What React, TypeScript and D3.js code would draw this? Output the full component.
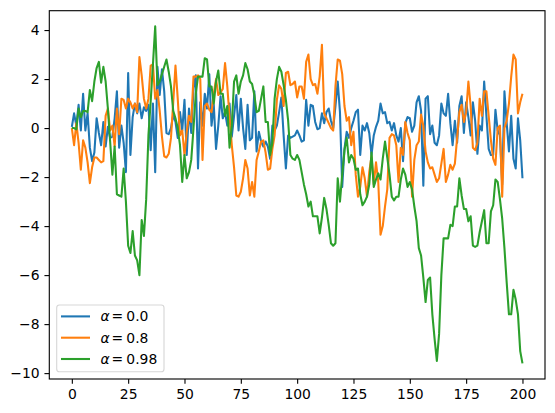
import React, { useEffect, useRef } from 'react';
import * as d3 from 'd3';

// AR(1) style series, one value per step 0..200
const alpha00 = [
  0.05, 0.6, 0.1, 0.95, -0.1, 1.4, -0.1, 0.6, -0.8, -1.35,
  -1.0, 0.4, -0.2, -0.7, 0.25, -0.75, 0.05, -0.4, -0.35, 0.4,
  1.5, -0.8, 0.1, -0.6, -1.8, 2.25, -1.1, 0.45, 1.0, 0.6,
  1.0, 0.4, 0.85, 0.7, 0.95, -0.9, 1.0, -1.8, 2.5, 1.35,
  2.4, 1.5, -0.2, -0.25, 0.0, 0.55, 0.25, -0.4, 0.65, -0.1,
  1.15, -1.1, 0.8, -0.2, 1.6, 2.15, -1.65, 1.05, 0.1, 1.4,
  0.8, 2.2, 0.1, 0.95, -0.85, 0.1, 1.3, 0.4, 0.65, 0.1,
  1.0, -0.35, 0.5, 1.35, -0.1, 1.2, 0.0, -0.85, 0.95, -0.5,
  -0.4, 1.5, -0.95, -0.15, -0.55, -0.75, -0.55, -0.75, -1.25, 0.1,
  -0.1, 0.1, 0.65, 1.25, -0.3, -1.65, -0.3, -0.4, -0.35, -0.3,
  -0.1, -0.3, -0.55, -0.5, 1.15, 0.1, 0.95, 0.9, 0.25, -0.05,
  0.0, 0.6, 0.2, 0.65, 0.8, 0.3, 0.0, 0.9, 1.9, 0.65,
  -2.4, -0.85, -0.15, -0.4, 0.0, 0.3, 0.65, 0.75, -1.1, 0.1,
  -0.1, 0.2, -0.2, -1.1, -0.3, 0.05, 0.3, 1.0, 0.6, 0.65,
  0.2, 0.25, -0.1, 0.2, -0.3, -0.55, 0.0, -1.35, 0.2, 0.45,
  0.4, -0.15, 0.1, 1.05, 1.3, 0.7, -2.35, 1.2, 1.3, -0.25,
  0.1, -0.6, -0.7, -0.3, 1.0, 0.6, 0.5, 1.4, 0.2, -0.7,
  0.3, -0.6, 0.9, 1.3, -0.2, 1.05, 0.45, -0.3, 1.05, 0.3,
  -1.05, 0.1, -0.1, 1.9, 0.5, -0.85, -1.1, -1.1, 0.75, -0.1,
  -0.3, -2.3, 1.5, 0.2, -0.95, 0.5, -1.25, -1.65, 0.4, -0.5,
  -2.05,
];

const alpha08 = [
  0.0, -0.7, 0.2, -0.6, -1.7, -0.5, -0.8, -1.4, -2.25, -1.6,
  -1.2, -1.2, -1.3, -1.4, -1.35, 0.5, 0.8, -0.1, 0.1, -0.75,
  0.8, -0.25, 1.2, 1.15, 0.8, 1.2, 1.05, 0.8, 1.0, 0.65,
  2.9, 2.15, 1.2, 0.8, 1.2, 2.55, 2.6, 1.2, 1.55, 0.7,
  -0.35, -1.15, -1.2, -1.05, -0.4, 1.05, 2.55, 1.2, -0.3, -0.1,
  -1.1, -0.15, 0.5, 0.25, 2.1, 2.1, 2.15, 2.0, -1.3, 0.9,
  1.0, 0.75, 0.65, 1.4, 2.0, 1.35, 1.45, 1.6, 2.65, 1.7,
  0.45, -0.7, -1.6, -2.75, -2.8, -2.6, -2.05, -1.3, -1.65, -2.75,
  -2.2, -2.8, -1.3, -0.95, -0.55, -0.5, -1.0, -1.7, -1.65, -0.85,
  -0.3, 1.15, 1.75, 1.6, 0.9, 2.25, 2.3, 1.75, 1.8, 1.9,
  1.25, 1.7, 1.7, 1.2, 2.7, 3.0, 2.0, 1.75, 1.8, 1.4,
  2.1, 3.4, 0.6, 0.4, 0.2, 0.0, -0.1, 1.7, 2.8, 2.75,
  2.2, 0.9, 0.3, 0.45, -0.7, -0.15, -1.9, -2.8, -2.4, -1.6,
  -2.05, -2.8, -1.8, -1.15, -2.3, -1.4, -2.2, -4.35, -4.0, -3.2,
  -2.5, -0.4, -0.25, -0.3, -0.7, -2.2, -0.8, -1.1, 0.25, -0.2,
  -0.5, -2.8, -1.3, -0.7, -0.55, 0.55, 0.1, -0.95, -1.4, -1.65,
  -1.6, -1.9, -2.2, -2.05, -1.45, -0.85, -2.2, -1.9, -1.5, -1.7,
  -1.45, -0.4, 0.65, 0.95, 0.25, 0.65, 1.9, 0.9, -0.8, -0.9,
  -0.6, 1.2, 0.5, 1.5, 1.5, 0.5, -0.5, -1.25, -1.5, 0.0,
  0.1, -2.8, 0.0, 0.3, 1.0, 2.1, 3.0, 2.8, 0.6, 1.05,
  1.4,
];

const alpha098 = [
  0.0, 0.0, -0.05, 0.8, 0.45, 0.7, 0.7, 0.65, 1.55, 1.1,
  1.9, 2.45, 2.7, 1.85, 2.5, 1.9, 0.8, -0.55, -1.9, -0.75,
  -2.7, -2.75, -2.8, -1.65, -3.0, -4.8, -5.1, -4.2, -5.2, -5.4,
  -6.0, -3.75, -4.4, -2.9, -0.3, 1.1, 2.6, 4.15, 1.75, 1.9,
  2.2, 2.5, 2.8, 2.3, 1.7, 0.7, 0.4, 0.0, -0.7, -2.2,
  -1.1, -2.05, -1.8, -1.3, 0.0, 1.4, 2.1, 2.1, 2.1, 2.85,
  2.8, 1.7, 1.7, 1.0, 1.9, 2.35, 1.4, 1.4, 0.5, 0.9,
  -0.8, 0.1, 1.9, 2.15, 1.4, 1.9, 2.15, 2.65, 2.4, 1.9,
  1.8, 1.35, 0.65, 0.7, 1.2, 1.7, 0.25, 0.25, -1.1, -0.6,
  1.2, 2.0, 2.5, 2.3, 1.75, 1.15, 0.3, -1.1, -1.25, -1.3,
  -1.1, -1.3, -1.8, -2.3, -2.7, -3.2, -3.0, -3.6, -3.6, -3.6,
  -4.3, -3.65, -2.85, -3.3, -3.95, -4.7, -4.8, -4.7, -2.05, -3.0,
  -1.9, -0.9, -0.4, -1.4, -1.1, -1.25, -1.7, -1.65, -2.7, -3.15,
  -3.0, -2.8, -2.3, -1.0, -2.4, -2.1, -1.85, -2.1, -1.25, -0.55,
  -1.2, -1.9, -2.8, -2.95, -2.8, -2.8, -2.1, -1.65, -1.9, -2.4,
  -2.2, -2.5, -3.2, -3.8, -4.9, -5.2, -6.1, -7.1, -6.2, -6.1,
  -7.6, -8.6, -9.5, -8.4, -6.0, -4.5, -4.5, -4.5, -3.95, -4.0,
  -3.2, -3.2, -2.05, -2.75, -3.3, -3.3, -3.8, -3.6, -4.8, -4.85,
  -4.8, -4.25, -3.8, -3.35, -4.7, -4.7, -3.4, -3.15, -2.1, -2.2,
  -2.9, -3.7, -4.9, -6.3, -7.6, -7.6, -6.6, -7.0, -7.6, -9.1,
  -9.6,
];

const seriesValues = [alpha00, alpha08, alpha098];
const seriesLabels = ['0.0', '0.8', '0.98'];
const seriesColors = ['#1f77b4', '#ff7f0e', '#2ca02c'];

const xTicks = [0, 25, 50, 75, 100, 125, 150, 175, 200];
const yTicks = [-10, -8, -6, -4, -2, 0, 2, 4];

const W = 555;
const H = 413;
const plot = { left: 49.3, right: 545, top: 10.7, bottom: 379 };
const FONT = '"DejaVu Sans", sans-serif';
const FS = '13.9px';

// matplotlib style labels, with a real minus sign
const fmtTick = (d: number) => (d < 0 ? '\u2212' + Math.abs(d) : String(d));

export default function App() {
  const svgRef = useRef<SVGSVGElement>(null);

  useEffect(() => {
    const svg = d3.select(svgRef.current);
    svg.selectAll('*').remove();

    const x = d3.scaleLinear().domain([-10, 210]).range([plot.left, plot.right]);
    const y = d3.scaleLinear().domain([-10.24, 4.79]).range([plot.bottom, plot.top]);

    svg.append('defs').append('clipPath').attr('id', 'plotclip')
      .append('rect')
      .attr('x', plot.left).attr('y', plot.top)
      .attr('width', plot.right - plot.left)
      .attr('height', plot.bottom - plot.top);

    const line = d3.line<number>()
      .x((_, i) => x(i))
      .y(d => y(d));

    const g = svg.append('g').attr('clip-path', 'url(#plotclip)');
    seriesValues.forEach((vals, k) => {
      g.append('path')
        .attr('d', line(vals))
        .attr('fill', 'none')
        .attr('stroke', seriesColors[k])
        .attr('stroke-width', 2.08)
        .attr('stroke-linejoin', 'round');
    });

    // axes
    const xAxis = d3.axisBottom(x)
      .tickValues(xTicks)
      .tickSize(4.86)
      .tickPadding(4.86)
      .tickFormat(fmtTick);
    const gx = svg.append('g')
      .attr('transform', `translate(0, ${plot.bottom})`)
      .call(xAxis);

    const yAxis = d3.axisLeft(y)
      .tickValues(yTicks)
      .tickSize(4.86)
      .tickPadding(4.86)
      .tickFormat(fmtTick);
    const gy = svg.append('g')
      .attr('transform', `translate(${plot.left}, 0)`)
      .call(yAxis);

    [gx, gy].forEach(a => {
      a.attr('font-size', null).attr('font-family', null);
      a.select('.domain').remove();
      a.selectAll('line').attr('stroke', '#000').attr('stroke-width', 1.11);
      a.selectAll('text')
        .attr('fill', '#000')
        .attr('font-family', FONT)
        .attr('font-size', FS);
    });

    // frame
    svg.append('rect')
      .attr('x', plot.left).attr('y', plot.top)
      .attr('width', plot.right - plot.left)
      .attr('height', plot.bottom - plot.top)
      .attr('fill', 'none')
      .attr('stroke', '#000')
      .attr('stroke-width', 1.11);

    // legend
    const lg = svg.append('g');
    lg.append('rect')
      .attr('x', 56.7).attr('y', 305)
      .attr('width', 107.3).attr('height', 66.7)
      .attr('rx', 2.8)
      .attr('fill', 'rgba(255,255,255,0.8)')
      .attr('stroke', 'rgba(204,204,204,0.8)')
      .attr('stroke-width', 1.1);

    seriesLabels.forEach((lab, k) => {
      const ly = 316.4 + k * 21.3;
      lg.append('line')
        .attr('x1', 61).attr('x2', 90)
        .attr('y1', ly).attr('y2', ly)
        .attr('stroke', seriesColors[k])
        .attr('stroke-width', 2.08);
      const t = lg.append('text')
        .attr('y', ly + 5)
        .attr('font-family', FONT)
        .attr('font-size', FS)
        .attr('fill', '#000');
      t.append('tspan').attr('x', 100.5).attr('font-style', 'italic').text('α');
      t.append('tspan').attr('x', 111.6).text('=');
      t.append('tspan').attr('x', 126.3).text(lab);
    });
  }, []);

  return (
    <svg
      ref={svgRef}
      width={W}
      height={H}
      style={{ position: 'absolute', left: 0, top: 0, background: '#fff' }}
    />
  );
}
